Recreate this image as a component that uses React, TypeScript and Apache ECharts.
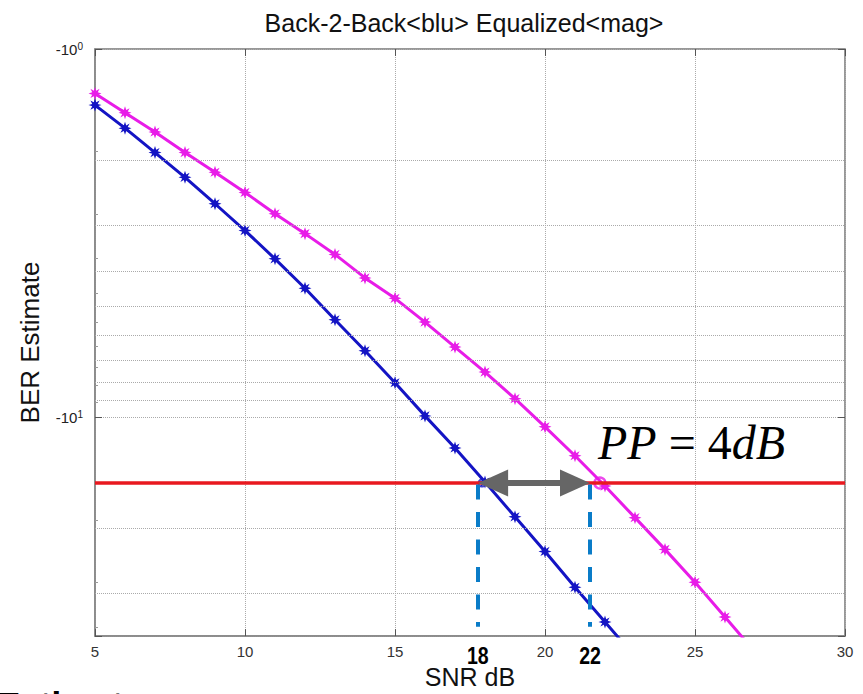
import React, { useEffect, useRef } from "react";
import * as echarts from "echarts";

const FONT = "'Liberation Sans', Arial, Helvetica, sans-serif";
const SERIF = "'Liberation Serif', 'Times New Roman', serif";

const TITLE = "Back-2-Back<blu> Equalized<mag>";
const X_NAME = "SNR dB";
const Y_NAME = "BER Estimate";

const SNR_BLUE = [5, 6, 7, 8, 9, 10, 11, 12, 13, 14, 15, 16, 17, 18, 19, 20, 21, 22, 23];
const BER_BLUE = [1.42, 1.64, 1.91, 2.23, 2.63, 3.11, 3.71, 4.46, 5.43, 6.59, 8.05, 9.9, 12.1, 14.97, 18.6, 23.1, 28.9, 35.9, 44.6];

const SNR_MAG = [5, 6, 7, 8, 9, 10, 11, 12, 13, 14, 15, 16, 17, 18, 19, 20, 21, 22, 23, 24, 25, 26, 27];
const BER_MAG = [1.32, 1.49, 1.68, 1.91, 2.16, 2.45, 2.8, 3.17, 3.61, 4.18, 4.75, 5.51, 6.44, 7.53, 8.89, 10.6, 12.7, 15.35, 18.7, 22.8, 28.0, 34.8, 43.3];

const X_MIN = 5;
const X_MAX = 30;
const X_STEP = 5;
const Y_MIN = 1;
const Y_MAX = 39.2;
const MINOR_GRID = [2, 3, 4, 5, 6, 7, 8, 9, 20, 30];

const TARGET_BER = 15.06;
const CROSS_SNR = [17.76, 21.5];
const CROSS_LABELS = ["18", "22"];
const CROSS_POINTS_BLUE = [[17.9, 15.06]];
const CROSS_POINTS_MAG = [[21.83, 15.06]];
const DASH_BOTTOM = 37.0;
const DASH_TOP = 15.2;
const ARROW_ENDS = [18.27, 21.0];

const STAR =
  "path://M10 5 L7.125 5.952 L8.536 8.536 L5.952 7.125 L5 10 L4.048 7.125 L1.464 8.536 L2.875 5.952 L0 5 L2.875 4.048 L1.464 1.464 L4.048 2.875 L5 0 L5.952 2.875 L8.536 1.464 L7.125 4.048 Z";

const BLUE = "#1414c4";
const MAG = "#e81ce8";

export default function App() {
  const ref = useRef<HTMLDivElement>(null);
  useEffect(() => {
    if (!ref.current) return;
    const chart = echarts.init(ref.current, undefined, { renderer: "svg" });
    const tickStyle = { color: "#555", width: 1 };
    const option: any = {
      animation: false,
      backgroundColor: "#ffffff",
      title: {
        text: TITLE,
        left: 464,
        top: 10,
        textAlign: "center",
        padding: 0,
        textStyle: { fontFamily: FONT, fontSize: 25, fontWeight: "normal", color: "#111" },
      },
      grid: {
        left: 95,
        right: 18,
        top: 49,
        bottom: 54,
        show: true,
        borderColor: "#777",
        borderWidth: 1.5,
        backgroundColor: "transparent",
      },
      xAxis: [
        {
          type: "value",
          min: X_MIN,
          max: X_MAX,
          interval: X_STEP,
          position: "bottom",
          axisLine: { onZero: false, lineStyle: { color: "#888", width: 1.5 } },
          axisTick: { inside: true, length: 7, lineStyle: tickStyle },
          axisLabel: { fontSize: 15, color: "#333", margin: 8, fontFamily: FONT },
          splitLine: { show: true, lineStyle: { type: "dotted", color: "#aaa", width: 1 } },
          name: X_NAME,
          nameLocation: "middle",
          nameGap: 27,
          nameTextStyle: { fontSize: 25, color: "#111", fontFamily: FONT },
        },
        {
          type: "value",
          min: X_MIN,
          max: X_MAX,
          interval: X_STEP,
          position: "top",
          axisLine: { show: false },
          axisTick: { inside: true, length: 7, lineStyle: tickStyle },
          axisLabel: { show: false },
          splitLine: { show: false },
        },
      ],
      yAxis: [
        {
          type: "log",
          logBase: 10,
          min: Y_MIN,
          max: Y_MAX,
          inverse: true,
          axisLine: { show: true, onZero: false, lineStyle: { color: "#888", width: 1.5 } },
          axisTick: { show: true, inside: true, length: 7, lineStyle: tickStyle },
          minorTick: { show: true, splitNumber: 10, length: 3, lineStyle: { color: "#999" } },
          axisLabel: {
            margin: 12,
            showMaxLabel: false,
            formatter: (v: number) => `{b|-10}{s|${Math.round(Math.log10(v))}}`,
            rich: {
              b: { fontSize: 15, color: "#222", fontFamily: FONT },
              s: { fontSize: 10, color: "#222", fontFamily: FONT, verticalAlign: "top", lineHeight: 10 },
            },
          },
          splitLine: { show: true, lineStyle: { type: "dotted", color: "#aaa", width: 1 } },
          name: Y_NAME,
          nameLocation: "middle",
          nameGap: 52,
          nameTextStyle: { fontSize: 26, color: "#111", fontFamily: FONT },
        },
        {
          type: "log",
          logBase: 10,
          min: Y_MIN,
          max: Y_MAX,
          inverse: true,
          position: "right",
          axisLine: { show: false },
          axisTick: { show: true, inside: true, length: 7, lineStyle: tickStyle },
          axisLabel: { show: false },
          splitLine: { show: false },
        },
      ],
      series: [
        {
          type: "line",
          data: [],
          silent: true,
          z: 1,
          markLine: {
            silent: true,
            symbol: "none",
            label: { show: false },
            lineStyle: { type: "dotted", color: "#aaa", width: 1 },
            data: MINOR_GRID.map((v) => ({ yAxis: v })),
          },
        },
        {
          type: "line",
          data: [],
          silent: true,
          z: 2,
          markLine: {
            silent: true,
            symbol: "none",
            label: { show: false },
            lineStyle: { type: "solid", color: "#e8191f", width: 3.5 },
            data: [{ yAxis: TARGET_BER }],
          },
        },
        {
          name: "Back-2-Back",
          type: "line",
          z: 3,
          data: SNR_BLUE.map((x, i) => [x, BER_BLUE[i]]),
          symbol: STAR,
          symbolSize: 13,
          showAllSymbol: true,
          lineStyle: { color: BLUE, width: 3 },
          itemStyle: { color: BLUE },
        },
        {
          name: "Equalized",
          type: "line",
          z: 3,
          data: SNR_MAG.map((x, i) => [x, BER_MAG[i]]),
          symbol: STAR,
          symbolSize: 13,
          showAllSymbol: true,
          lineStyle: { color: MAG, width: 3 },
          itemStyle: { color: MAG },
        },
        {
          type: "scatter",
          z: 4,
          data: CROSS_POINTS_BLUE,
          symbol: "circle",
          symbolSize: 7,
          itemStyle: { color: "transparent", borderColor: BLUE, borderWidth: 2 },
        },
        {
          type: "scatter",
          z: 4,
          data: CROSS_POINTS_MAG,
          symbol: "circle",
          symbolSize: 11,
          itemStyle: { color: "transparent", borderColor: MAG, borderWidth: 2.5 },
        },
        {
          type: "line",
          data: [],
          silent: true,
          z: 5,
          markLine: {
            silent: true,
            symbol: "none",
            label: { show: false },
            lineStyle: { type: [15, 12.5], color: "#0a7cc8", width: 4 },
            data: CROSS_SNR.map((x) => [{ coord: [x, DASH_TOP] }, { coord: [x, DASH_BOTTOM] }]),
          },
        },
        {
          type: "line",
          data: [],
          silent: true,
          z: 6,
          markLine: {
            silent: true,
            symbol: ["triangle", "triangle"],
            symbolSize: [27, 30],
            label: { show: false },
            lineStyle: { type: "solid", color: "#666666", width: 6 },
            itemStyle: { color: "#666666" },
            data: [[{ coord: [ARROW_ENDS[0], TARGET_BER] }, { coord: [ARROW_ENDS[1], TARGET_BER] }]],
          },
        },
      ],
    };
    chart.setOption(option);

    const labelY = 656;
    const graphics: any[] = CROSS_SNR.map((x, i) => {
      const px = chart.convertToPixel({ xAxisIndex: 0, yAxisIndex: 0 }, [x, TARGET_BER]) as number[];
      return {
        type: "text",
        x: px[0],
        y: labelY,
        scaleX: 0.85,
        originX: 0,
        originY: 0,
        style: {
          text: CROSS_LABELS[i],
          fontFamily: FONT,
          fontSize: 23,
          fontWeight: "bold",
          fill: "#000",
          align: "center",
          verticalAlign: "middle",
        },
      };
    });
    graphics.push({
      type: "text",
      x: 598,
      y: 442,
      style: {
        text: "{i|PP} {n|=} {n|4}{i|dB}",
        fontFamily: SERIF,
        fontSize: 48,
        fill: "#000",
        align: "left",
        verticalAlign: "middle",
        rich: {
          i: { fontFamily: SERIF, fontSize: 48, fontStyle: "italic", fill: "#000" },
          n: { fontFamily: SERIF, fontSize: 48, fill: "#000" },
        },
      },
    });
    graphics.push({
      type: "text",
      x: -3,
      y: 687,
      style: {
        text: "Estimate",
        fontFamily: FONT,
        fontSize: 35,
        fontWeight: "bold",
        fill: "#000",
        align: "left",
        verticalAlign: "top",
      },
    });
    chart.setOption({ graphic: graphics });

    return () => chart.dispose();
  }, []);
  return (
    <div
      ref={ref}
      style={{ position: "absolute", left: 0, top: 0, width: 863, height: 694, background: "#fff" }}
    />
  );
}
